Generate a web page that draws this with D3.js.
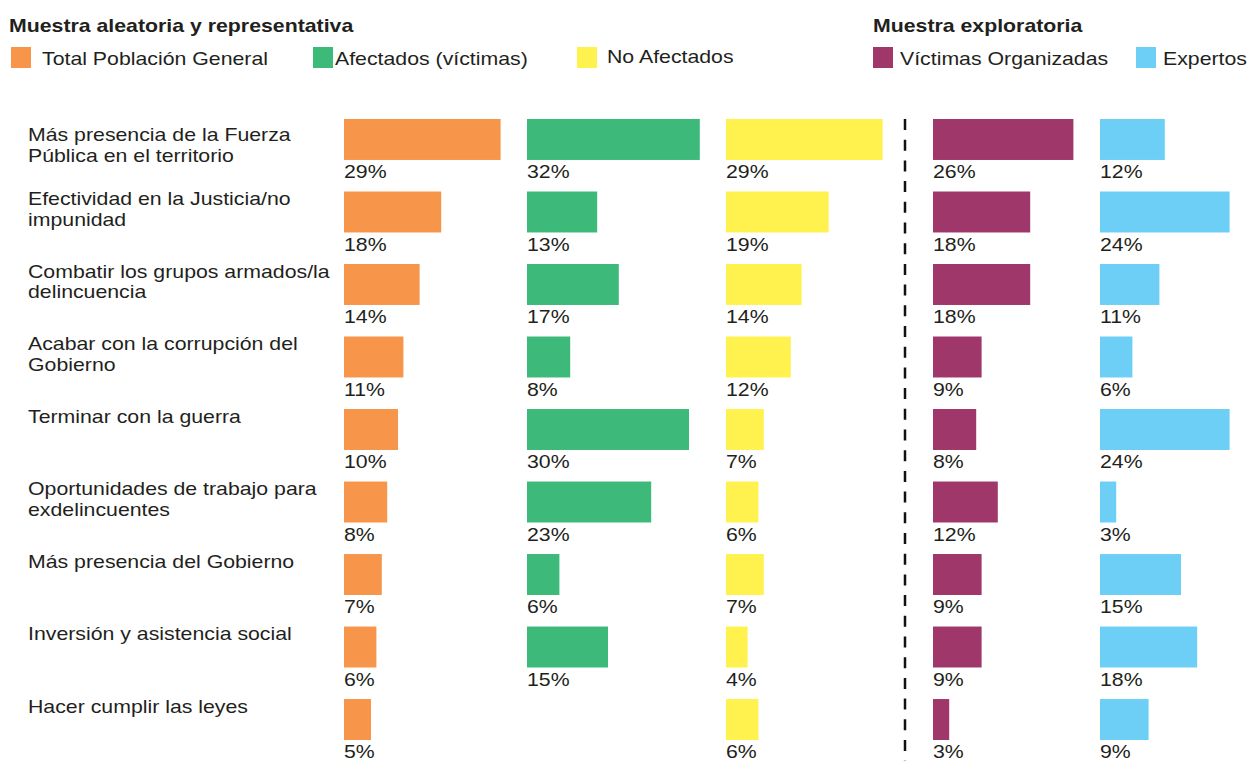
<!DOCTYPE html>
<html>
<head>
<meta charset="utf-8">
<script src="https://cdn.jsdelivr.net/npm/d3@7"></script>
<style>
  body { margin: 0; background: #fff; }
  text { font-family: "Liberation Sans", Arial, sans-serif; fill: #231f20; }
</style>
</head>
<body>
<div id="chart"></div>
<script>
// categories (label lines)
const categories = [
  ["Más presencia de la Fuerza", "Pública en el territorio"],
  ["Efectividad en la Justicia/no", "impunidad"],
  ["Combatir los grupos armados/la", "delincuencia"],
  ["Acabar con la corrupción del", "Gobierno"],
  ["Terminar con la guerra"],
  ["Oportunidades de trabajo para", "exdelincuentes"],
  ["Más presencia del Gobierno"],
  ["Inversión y asistencia social"],
  ["Hacer cumplir las leyes"]
];

const seriesNames = ["Total Población General", "Afectados (víctimas)", "No Afectados", "Víctimas Organizadas", "Expertos"];

// values in %
const totalPoblacion = [29, 18, 14, 11, 10, 8, 7, 6, 5];
const afectados = [32, 13, 17, 8, 30, 23, 6, 15, null];
const noAfectados = [29, 19, 14, 12, 7, 6, 7, 4, 6];
const victimasOrg = [26, 18, 18, 9, 8, 12, 9, 9, 3];
const expertos = [12, 24, 11, 6, 24, 3, 15, 18, 9];

const seriesValues = [totalPoblacion, afectados, noAfectados, victimasOrg, expertos];
const colors = ["#f7964a", "#3dba7a", "#fff24f", "#a0376a", "#6dcff6"];

const groupTitles = ["Muestra aleatoria y representativa", "Muestra exploratoria"];

let svgWidth = 1248;
let svgHeight = 761;
const stretch = 1.17; // the type in the original is a bit wider than Arial
const fontSize = 18.2;

let svg = d3.select("#chart")
  .append("svg")
  .attr("width", svgWidth)
  .attr("height", svgHeight);

// column start for each series
let colX = d3.scaleOrdinal()
  .domain(seriesNames)
  .range([344, 527, 726, 933, 1100]);

// bar length
let xScale = d3.scaleLinear()
  .domain([0, 10])
  .range([0, 54]);

// rows
let yScale = d3.scaleBand()
  .domain(d3.range(categories.length))
  .range([119, 740])
  .paddingInner(0.435)
  .paddingOuter(0);

function stretchedText(sel, x, y) {
  return sel.attr("transform", `translate(${x},${y}) scale(${stretch},1)`);
}

// legend titles
stretchedText(svg.append("text"), 9, 32)
  .attr("font-size", 18.2)
  .attr("font-weight", "bold")
  .text(groupTitles[0]);
stretchedText(svg.append("text"), 873, 32)
  .attr("font-size", 18.2)
  .attr("font-weight", "bold")
  .text(groupTitles[1]);

// legend items
const legendSwatchX = [11, 313, 577, 873, 1136];
const legendTextX = [42, 335, 607, 900, 1163];
seriesNames.forEach((name, i) => {
  svg.append("rect")
    .attr("x", legendSwatchX[i])
    .attr("y", 47)
    .attr("width", 20)
    .attr("height", 21)
    .attr("fill", colors[i]);
  stretchedText(svg.append("text"), legendTextX[i], i === 2 ? 63 : 65)
    .attr("font-size", fontSize)
    .text(name);
});

// category labels
let catGroup = svg.append("g");
categories.forEach((lines, i) => {
  let base = yScale(i) + (i === 0 ? 22 : 13.5);
  lines.forEach((line, j) => {
    stretchedText(catGroup.append("text"), 28, base + j * 20.5)
      .attr("font-size", fontSize)
      .text(line);
  });
});

// bars + value labels
seriesNames.forEach((name, s) => {
  let data = seriesValues[s].map((v, i) => ({ v: v, i: i })).filter(d => d.v !== null);
  let g = svg.append("g");

  g.selectAll("rect")
    .data(data)
    .enter()
    .append("rect")
    .attr("x", colX(name))
    .attr("y", d => yScale(d.i))
    .attr("width", d => xScale(d.v))
    .attr("height", yScale.bandwidth())
    .attr("fill", colors[s]);

  g.selectAll("text")
    .data(data)
    .enter()
    .append("text")
    .attr("font-size", fontSize)
    .attr("transform", d => `translate(${colX(name)},${yScale(d.i) + 59}) scale(${stretch},1)`)
    .text(d => d.v + "%");
});

// dashed separator
svg.append("line")
  .attr("x1", 905)
  .attr("x2", 905)
  .attr("y1", 119)
  .attr("y2", svgHeight)
  .attr("stroke", "#111")
  .attr("stroke-width", 2.5)
  .attr("stroke-dasharray", "11,9.7");
</script>
</body>
</html>
